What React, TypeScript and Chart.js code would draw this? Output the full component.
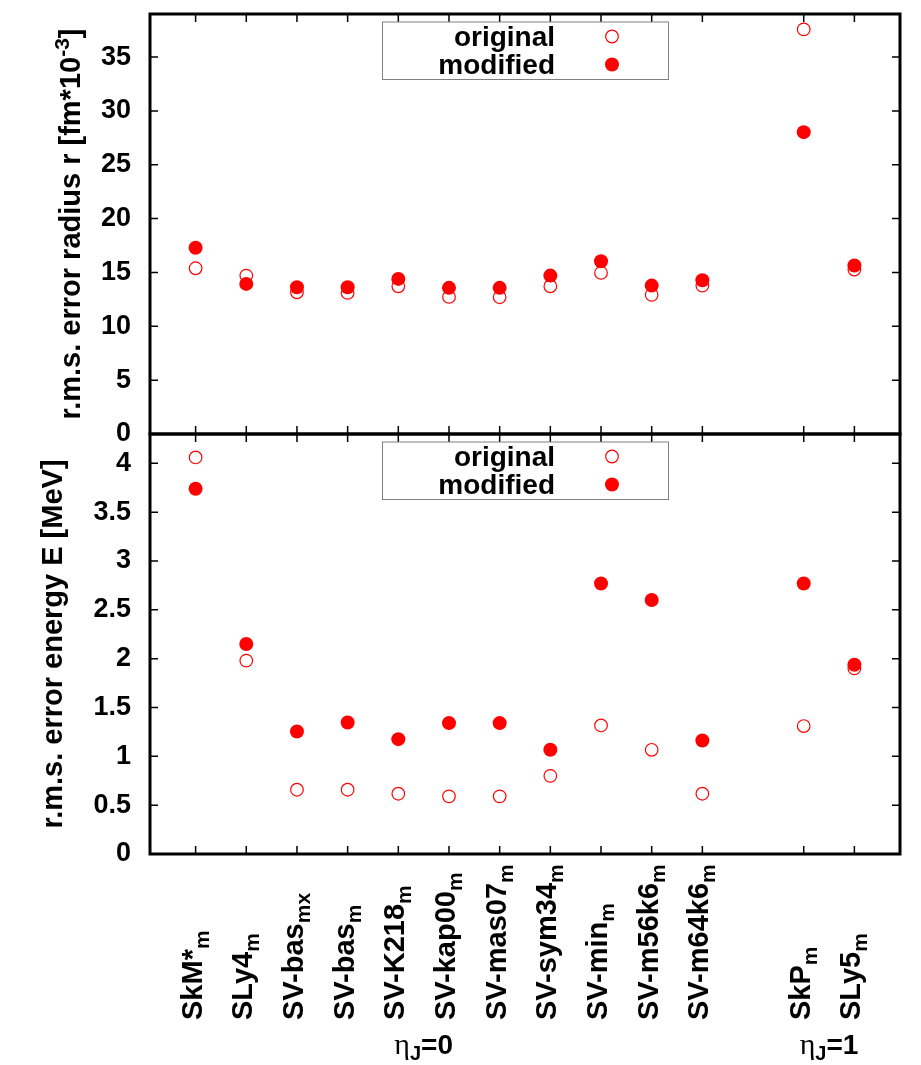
import React, { useEffect, useRef } from 'react';
import { Chart, registerables } from 'chart.js';

Chart.register(...registerables);

// ---------- data ----------
const categories = ['SkM*', 'SLy4', 'SV-bas', 'SV-bas', 'SV-K218', 'SV-kap00', 'SV-mas07', 'SV-sym34', 'SV-min', 'SV-m56k6', 'SV-m64k6', 'SkP', 'SLy5'];
const categorySubscripts = ['m', 'm', 'mx', 'm', 'm', 'm', 'm', 'm', 'm', 'm', 'm', 'm', 'm'];
const categoryPositions = [1, 2, 3, 4, 5, 6, 7, 8, 9, 10, 11, 13, 14];
const groupValues = ['0', '1'];
const groupPositions = [5.5, 13.5];

const radiusOriginal = [15.39, 14.71, 13.16, 13.1, 13.72, 12.73, 12.7, 13.72, 14.96, 12.92, 13.78, 37.57, 15.27];
const radiusModified = [17.29, 13.94, 13.62, 13.62, 14.4, 13.57, 13.57, 14.71, 16.04, 13.78, 14.28, 28.03, 15.64];
const energyOriginal = [4.06, 1.98, 0.658, 0.658, 0.617, 0.59, 0.59, 0.8, 1.316, 1.067, 0.617, 1.31, 1.9];
const energyModified = [3.74, 2.15, 1.254, 1.346, 1.176, 1.34, 1.34, 1.067, 2.77, 2.6, 1.162, 2.77, 1.937];

const radiusTicks = [0, 5, 10, 15, 20, 25, 30, 35];
const energyTicks = [0, 0.5, 1, 1.5, 2, 2.5, 3, 3.5, 4];
const radiusMax = 39;
const energyMax = 4.3;
const xMin = 0.1;
const xMax = 14.9;
const legendLabels = ['original', 'modified'];

// ---------- styling ----------
const W = 921;
const H = 1065;
const FONT = "'Liberation Sans', Arial, Helvetica, sans-serif";
const SERIF = "'Liberation Serif', 'DejaVu Serif', serif";
const RED = '#ff0000';
const TICK = 8;

type Part = { t: string; size: number; dy?: number; family?: string; weight?: string };

function setFont(ctx: CanvasRenderingContext2D, p: Part) {
  ctx.font = `${p.weight ?? 'bold'} ${p.size}px ${p.family ?? FONT}`;
}
function richWidth(ctx: CanvasRenderingContext2D, parts: Part[]) {
  let w = 0;
  for (const p of parts) {
    setFont(ctx, p);
    w += ctx.measureText(p.t).width;
  }
  return w;
}
function drawRich(ctx: CanvasRenderingContext2D, x: number, y: number, parts: Part[]) {
  let cx = x;
  ctx.textAlign = 'left';
  ctx.textBaseline = 'alphabetic';
  for (const p of parts) {
    setFont(ctx, p);
    ctx.fillText(p.t, cx, y + (p.dy ?? 0));
    cx += ctx.measureText(p.t).width;
  }
}

type Panel = {
  id: string;
  padTop: number;
  padBottom: number;
  yMax: number;
  yTicks: number[];
  original: number[];
  modified: number[];
  title: Part[];
  titleX: number;
  showXLabels: boolean;
};

const panels: Panel[] = [
  {
    id: 'radius',
    padTop: 14,
    padBottom: H - 434,
    yMax: radiusMax,
    yTicks: radiusTicks,
    original: radiusOriginal,
    modified: radiusModified,
    title: [
      { t: 'r.m.s. error radius r [fm*10', size: 29 },
      { t: '-3', size: 21, dy: -11 },
      { t: ']', size: 29 },
    ],
    titleX: 80,
    showXLabels: false,
  },
  {
    id: 'energy',
    padTop: 434,
    padBottom: H - 854,
    yMax: energyMax,
    yTicks: energyTicks,
    original: energyOriginal,
    modified: energyModified,
    title: [{ t: 'r.m.s. error energy E [MeV]', size: 29 }],
    titleX: 62,
    showXLabels: true,
  },
];

function makePlugin(panel: Panel) {
  return {
    id: 'decor_' + panel.id,
    afterDraw(chart: any) {
      const ctx: CanvasRenderingContext2D = chart.ctx;
      const a = chart.chartArea;
      const xs = chart.scales.x;
      const ys = chart.scales.y;
      ctx.save();

      // inward ticks
      ctx.strokeStyle = '#000';
      ctx.lineWidth = 1.5;
      ctx.beginPath();
      for (const v of panel.yTicks) {
        const py = ys.getPixelForValue(v);
        ctx.moveTo(a.left, py);
        ctx.lineTo(a.left + TICK, py);
        ctx.moveTo(a.right, py);
        ctx.lineTo(a.right - TICK, py);
      }
      for (const p of categoryPositions) {
        const px = xs.getPixelForValue(p);
        ctx.moveTo(px, a.top);
        ctx.lineTo(px, a.top + TICK);
        ctx.moveTo(px, a.bottom);
        ctx.lineTo(px, a.bottom - TICK);
      }
      ctx.stroke();

      // frame
      ctx.lineWidth = 3;
      ctx.strokeRect(a.left, a.top, a.right - a.left, a.bottom - a.top);

      // legend
      const lx0 = 382;
      const lx1 = 668;
      const ltop = a.top + 7.5;
      ctx.lineWidth = 1;
      ctx.strokeStyle = '#808080';
      ctx.strokeRect(lx0 + 0.5, ltop + 0.5, lx1 - lx0, 57.5);
      const rows = [a.top + 22.5, a.top + 50.5];
      ctx.fillStyle = '#000';
      ctx.font = `bold 28px ${FONT}`;
      ctx.textAlign = 'right';
      ctx.textBaseline = 'alphabetic';
      rows.forEach((ry, i) => {
        ctx.fillText(legendLabels[i], 555, ry + 9);
      });
      ctx.beginPath();
      ctx.arc(612, rows[0], 6.3, 0, Math.PI * 2);
      ctx.strokeStyle = RED;
      ctx.lineWidth = 1.2;
      ctx.stroke();
      ctx.beginPath();
      ctx.arc(612, rows[1], 7, 0, Math.PI * 2);
      ctx.fillStyle = RED;
      ctx.fill();

      // y-axis title (rotated)
      ctx.fillStyle = '#000';
      const cy = (a.top + a.bottom) / 2;
      const tw = richWidth(ctx, panel.title);
      ctx.save();
      ctx.translate(panel.titleX, cy);
      ctx.rotate(-Math.PI / 2);
      drawRich(ctx, -tw / 2, 0, panel.title);
      ctx.restore();

      if (panel.showXLabels) {
        categories.forEach((c, i) => {
          const px = xs.getPixelForValue(categoryPositions[i]);
          ctx.save();
          ctx.translate(px + 6, 1020);
          ctx.rotate(-Math.PI / 2);
          drawRich(ctx, 0, 0, [
            { t: c, size: 29 },
            { t: categorySubscripts[i], size: 21, dy: 7 },
          ]);
          ctx.restore();
        });
        groupValues.forEach((g, i) => {
          const px = xs.getPixelForValue(groupPositions[i]);
          const parts: Part[] = [
            { t: 'η', size: 30, weight: 'normal', family: SERIF },
            { t: 'J', size: 20, dy: 6 },
            { t: '=' + g, size: 28 },
          ];
          const w = richWidth(ctx, parts);
          drawRich(ctx, px - w / 2, 1054, parts);
        });
      }
      ctx.restore();
    },
  };
}

function makeConfig(panel: Panel): any {
  return {
    type: 'scatter',
    data: {
      datasets: [
        {
          label: legendLabels[0],
          data: categoryPositions.map((x, i) => ({ x, y: panel.original[i] })),
          pointStyle: 'circle',
          pointRadius: 6.3,
          pointBorderWidth: 1.2,
          pointBorderColor: RED,
          pointBackgroundColor: 'rgba(0,0,0,0)',
          showLine: false,
          order: 1,
        },
        {
          label: legendLabels[1],
          data: categoryPositions.map((x, i) => ({ x, y: panel.modified[i] })),
          pointStyle: 'circle',
          pointRadius: 7,
          pointBorderWidth: 0,
          pointBorderColor: RED,
          pointBackgroundColor: RED,
          showLine: false,
          order: 0,
        },
      ],
    },
    options: {
      animation: false,
      responsive: false,
      maintainAspectRatio: false,
      devicePixelRatio: 1,
      events: [],
      layout: { padding: { left: 0, right: W - 900, top: panel.padTop, bottom: panel.padBottom } },
      plugins: { legend: { display: false }, tooltip: { enabled: false } },
      scales: {
        x: { type: 'linear', min: xMin, max: xMax, display: false },
        y: {
          type: 'linear',
          min: 0,
          max: panel.yMax,
          afterBuildTicks: (s: any) => {
            s.ticks = panel.yTicks.map((v) => ({ value: v }));
          },
          afterFit: (s: any) => {
            s.width = 150;
            s.paddingTop = 0;
            s.paddingBottom = 0;
          },
          grid: { display: false, drawTicks: false },
          border: { display: false },
          ticks: {
            autoSkip: false,
            color: '#000',
            padding: 19,
            font: { family: FONT, size: 27, weight: 'bold' },
            callback: (v: any) => String(v),
          },
        },
      },
    },
    plugins: [makePlugin(panel)],
  };
}

function PanelCanvas({ panel }: { panel: Panel }) {
  const ref = useRef<HTMLCanvasElement | null>(null);
  useEffect(() => {
    if (!ref.current) return;
    const chart = new Chart(ref.current, makeConfig(panel));
    return () => chart.destroy();
  }, [panel]);
  return (
    <canvas
      ref={ref}
      width={W}
      height={H}
      style={{ position: 'absolute', left: 0, top: 0, width: W, height: H }}
    />
  );
}

export default function App() {
  return (
    <div style={{ position: 'fixed', left: 0, top: 0, width: W, height: H, background: '#fff' }}>
      {panels.map((p) => (
        <PanelCanvas key={p.id} panel={p} />
      ))}
    </div>
  );
}
